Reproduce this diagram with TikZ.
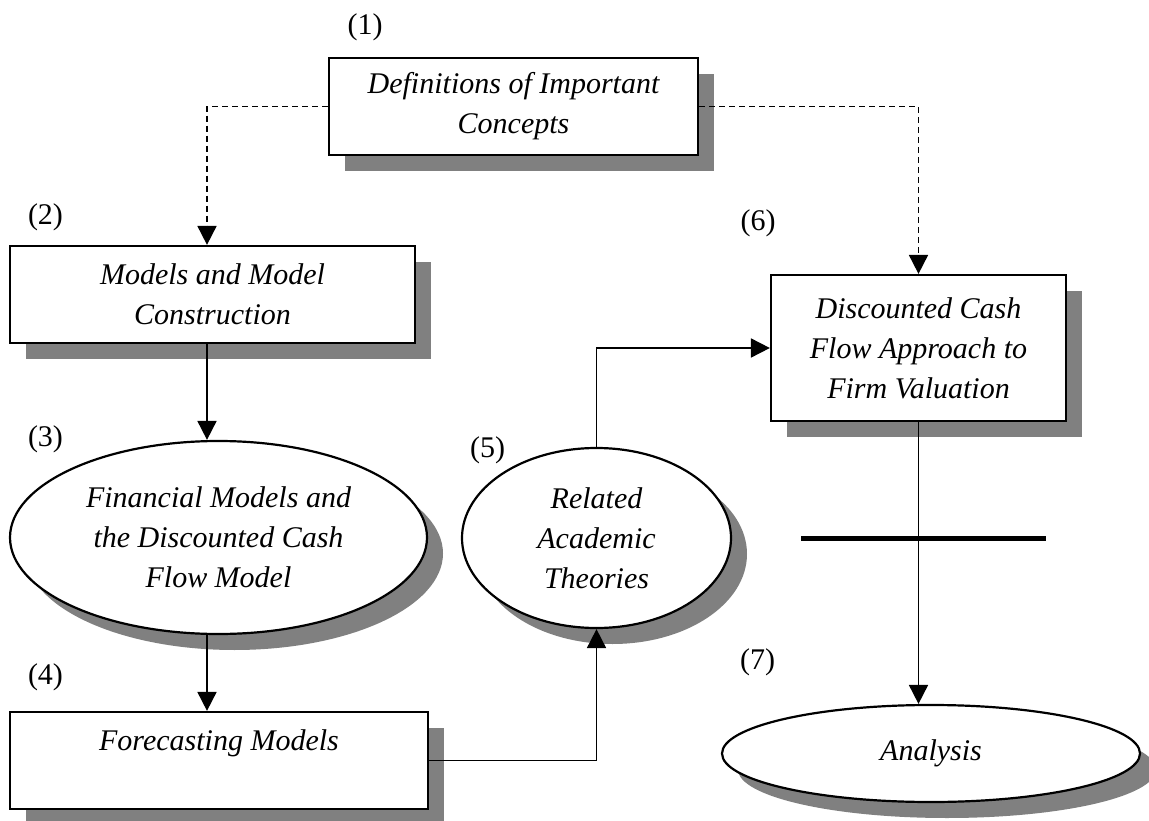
\documentclass[tikz,border=0pt]{standalone}
\usepackage{fontspec}
\setmainfont{Liberation Serif}
\usepackage{tikz}
\usetikzlibrary{arrows.meta,positioning,shapes.geometric,shadows}
\definecolor{shadowgray}{RGB}{128,128,128}
\newcommand{\chartfont}{\fontsize{30}{40}\selectfont}

\begin{document}
\begin{tikzpicture}[
  x=1pt, y=-1pt,
  shade/.style={drop shadow={shadow xshift=16pt, shadow yshift=-16pt, fill=shadowgray, opacity=1}},
  box/.style={rectangle, draw, line width=2.2pt, fill=white, align=center, font=\chartfont\itshape, shade},
  oval/.style={ellipse, draw, line width=2.2pt, fill=white, align=center, inner sep=2pt, font=\chartfont\itshape, shade},
  num/.style={font=\chartfont},
  arrow/.style={-{Triangle[length=19pt,width=19pt]}, line width=1.8pt},
  dasharrow/.style={arrow, dash pattern=on 6pt off 4pt},
  bar/.style={line width=5pt}
]
\useasboundingbox (0,0) rectangle (1149,821);

% boxes and ovals
\node[box, minimum width=369pt, minimum height=97pt] (defs) at (513.5,106.5) {Definitions of Important\\Concepts};
\node[box, minimum width=405pt, minimum height=97pt] (models) at (212.5,294.5) {Models and Model\\Construction};
\node[oval, minimum width=417pt, minimum height=193pt] (fin) at (218.5,537.5) {Financial Models and\\the Discounted Cash\\Flow Model};
\node[box, minimum width=418pt, minimum height=97pt] (fore) at (219,760.5) {Forecasting Models\\~};
\node[oval, minimum width=269pt, minimum height=180pt] (theo) at (596.5,538) {Related\\Academic\\Theories};
\node[box, minimum width=295pt, minimum height=146pt] (dcf) at (918.5,348) {Discounted Cash\\Flow Approach to\\Firm Valuation};
\node[oval, minimum width=418pt, minimum height=97pt] (ana) at (931,753.5) {Analysis};

% numbers
\node[num] (n1) at (365,27) {(1)};
\node[num] (n2) at (45.5,217) {(2)};
\node[num] (n3) at (45.5,439) {(3)};
\node[num] (n4) at (45.5,677) {(4)};
\node[num] (n5) at (487.5,450) {(5)};
\node[num] (n6) at (758,223) {(6)};
\node[num] (n7) at (757.5,662) {(7)};

\coordinate (lcol) at (207,0);
\coordinate (barL) at (801,538);
\coordinate (barR) at (1046,538);

% connectors
\draw[dasharrow] (defs.west) -| (lcol |- models.north);
\draw[dasharrow] (defs.east) -| (dcf.north);
\draw[arrow] (lcol |- models.south) -- (lcol |- fin.north);
\draw[arrow] (lcol |- fin.south) -- (lcol |- fore.north);
\draw[arrow] (fore.east) -| (theo.south);
\draw[arrow] (theo.north) |- (dcf.west);
\draw[arrow] (dcf.south) -- (dcf.south |- ana.north);
\draw[bar] (barL) -- (barR);
\end{tikzpicture}
\end{document}
